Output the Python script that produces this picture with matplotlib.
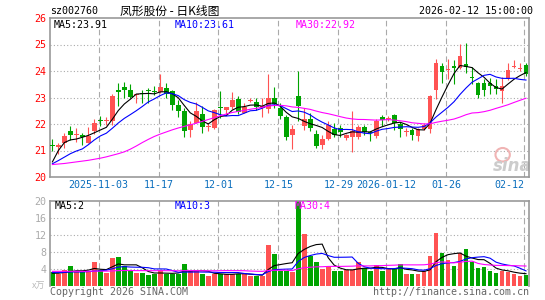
import matplotlib
matplotlib.use('Agg')
import matplotlib.pyplot as plt
from matplotlib.patches import Ellipse
import numpy as np
import pandas as pd

# daily candles, oldest first (80 sessions up to 2026-02-12)
opens = [21.22, 21.15, 21.30, 21.72, 21.60, 21.60, 21.30, 21.72, 22.15, 22.10,
         22.13, 23.30, 23.40, 23.30, 23.08, 23.14, 23.28, 23.22, 23.21, 23.34,
         23.24, 22.73, 22.48, 21.76, 22.04, 22.39, 21.88, 21.84, 22.64, 22.51,
         22.63, 22.93, 22.43, 22.87, 22.82, 22.60, 22.55, 23.00, 22.60, 22.25,
         21.60, 23.05, 21.92, 22.20, 21.62, 21.20, 21.45, 21.80, 21.85, 21.48,
         21.50, 21.52, 21.88, 21.70, 21.55, 22.27, 22.20, 22.33, 22.00, 21.68,
         21.76, 21.55, 21.83, 21.80, 23.30, 24.20, 24.03, 24.20, 24.13, 24.25,
         23.78, 23.55, 23.55, 23.53, 23.43, 23.25, 23.70, 24.14, 24.08, 24.22]
highs = [21.45, 21.30, 21.67, 21.93, 21.84, 21.65, 21.90, 22.18, 22.30, 22.25,
         23.14, 23.53, 23.60, 23.50, 23.15, 23.28, 23.36, 23.45, 23.87, 23.56,
         23.30, 22.92, 22.60, 22.10, 22.83, 22.67, 22.02, 22.56, 23.24, 22.66,
         23.21, 23.05, 22.81, 22.98, 23.00, 23.00, 23.90, 23.40, 22.80, 22.35,
         21.97, 24.00, 22.60, 22.40, 21.78, 21.58, 22.12, 22.05, 21.95, 21.62,
         22.50, 21.98, 21.98, 21.75, 22.17, 22.33, 22.32, 22.36, 22.06, 21.85,
         21.86, 21.86, 22.02, 23.08, 24.47, 24.32, 24.47, 24.42, 25.03, 25.07,
         24.15, 23.60, 23.68, 23.75, 23.70, 23.78, 24.32, 24.40, 24.32, 24.30]
lows = [20.98, 20.88, 21.10, 21.40, 21.33, 21.20, 21.28, 21.62, 21.93, 21.95,
        21.97, 22.67, 23.00, 22.98, 22.78, 22.80, 22.80, 23.10, 23.17, 22.97,
        22.54, 22.26, 21.50, 21.50, 22.04, 21.67, 21.75, 21.80, 22.22, 22.35,
        22.56, 22.36, 22.40, 22.82, 22.54, 22.25, 22.40, 22.60, 22.20, 21.40,
        21.05, 22.10, 21.78, 21.75, 21.08, 21.04, 21.38, 21.50, 21.52, 21.39,
        20.95, 21.42, 21.57, 21.35, 21.48, 21.92, 22.10, 21.77, 21.52, 21.55,
        21.40, 21.35, 21.77, 21.65, 22.93, 23.55, 23.68, 23.50, 24.08, 23.94,
        23.50, 22.99, 23.05, 23.12, 23.15, 22.80, 23.65, 24.10, 24.00, 23.81]
closes = [21.18, 21.20, 21.55, 21.60, 21.63, 21.52, 21.55, 22.05, 22.12, 22.13,
          23.05, 23.20, 23.28, 23.02, 23.10, 23.12, 23.25, 23.20, 23.39, 23.14,
          22.73, 22.48, 21.75, 22.00, 22.48, 21.88, 21.90, 22.54, 22.62, 22.63,
          22.92, 22.45, 22.66, 22.90, 22.66, 22.68, 22.98, 22.75, 22.30, 21.50,
          21.82, 22.68, 22.20, 21.85, 21.18, 21.43, 21.95, 21.60, 21.68, 21.57,
          21.72, 21.88, 21.68, 21.65, 22.12, 22.15, 22.24, 22.02, 21.80, 21.72,
          21.58, 21.80, 21.98, 23.05, 24.32, 23.97, 24.08, 24.12, 24.55, 24.14,
          23.75, 23.10, 23.28, 23.43, 23.33, 23.45, 24.05, 24.18, 24.12, 23.90]
# volume in 10k lots
volumes = [3.3, 2.75, 3.7, 4.65, 3.5, 3.3, 3.5, 5.7, 3.7, 3.1,
           6.6, 6.85, 4.65, 3.7, 3.1, 3.1, 2.5, 2.9, 3.7, 2.9,
           2.9, 2.9, 5.1, 3.5, 3.5, 2.9, 2.3, 2.75, 2.9, 2.9,
           2.9, 2.9, 2.9, 2.3, 2.3, 2.3, 9.6, 7.5, 3.5, 3.5,
           3.3, 20.5, 12.2, 7.0, 5.7, 3.9, 4.5, 3.5, 3.5, 3.7,
           3.7, 5.7, 4.3, 3.5, 4.9, 3.5, 4.25, 3.9, 5.1, 2.9,
           2.75, 2.9, 3.5, 7.0, 12.5, 7.8, 6.1, 4.65, 7.8, 8.7,
           5.7, 4.25, 4.5, 3.5, 3.1, 3.5, 3.3, 2.9, 2.3, 2.5]

ma5_head = [20.57, 21.00, 21.30, 21.40]
ma10_head = [20.50, 20.62, 20.75, 20.88, 20.98, 21.06, 21.22, 21.40, 21.55]
ma30_head = [20.47, 20.49, 20.51, 20.54, 20.57, 20.60, 20.63, 20.67, 20.71, 20.76,
             20.82, 20.88, 20.95, 21.05, 21.17, 21.30, 21.42, 21.53, 21.62, 21.70,
             21.78, 21.85, 21.91, 21.97, 22.03, 22.10, 22.17, 22.24, 22.31]
vol_ma5_head = [3.0, 3.0, 3.2, 3.4]
vol_ma10_head = [3.2, 3.2, 3.2, 3.3, 3.3, 3.3, 3.4, 3.5, 3.6]
vol_ma30_head = [3.45, 3.45, 3.44, 3.46, 3.46, 3.45, 3.46, 3.50, 3.50, 3.49,
                 3.55, 3.62, 3.64, 3.64, 3.62, 3.62, 3.60, 3.60, 3.62, 3.60,
                 3.60, 3.58, 3.62, 3.62, 3.62, 3.60, 3.58, 3.58, 3.60]

tick_idx = [8, 18, 28, 38, 48, 56, 66, 79]
tick_labels = ['2025-11-03', '11-17', '12-01', '12-15', '12-29', '2026-01-12', '01-26', '02-12']
price_ticks = [20, 21, 22, 23, 24, 25, 26]
vol_ticks = [4, 8, 12, 16, 20]


def moving(values, n, head):
    out = pd.Series(values).rolling(n).mean().to_numpy()
    out[:len(head)] = head
    return out


W, H = 545, 300
RED = '#ff5353'
GREEN = '#00a400'
GRID = '#aaaaaa'
BORDER = '#999999'
MONO = 'DejaVu Sans Mono'
FS = 7.2


def fx(x):
    return x / W


def fy(y):
    return 1 - y / H


o = np.array(opens)
c = np.array(closes)
x = np.arange(len(closes))
up = c >= o
cols = np.where(up, RED, GREEN)

fig = plt.figure(figsize=(W / 100, H / 100), dpi=100)
ax = fig.add_axes([fx(50), fy(177), fx(479), 159 / H])
axv = fig.add_axes([fx(50), fy(286), fx(479), 85 / H])

for a in (ax, axv):
    a.set_xlim(-0.4, 79.5)
    for s in a.spines.values():
        s.set_color(BORDER)
        s.set_linewidth(1.2)
    for t in tick_idx:
        a.axvline(t - 0.3, color=GRID, lw=0.8, ls=(0, (5, 3)), zorder=0)
axv.spines['bottom'].set_visible(False)

# price panel
ax.set_ylim(20, 26)
for yv in price_ticks[1:-1]:
    ax.axhline(yv, color=GRID, lw=0.8, ls=(0, (1, 2)), zorder=0)
ax.vlines(x, lows, highs, colors=cols, lw=0.8, zorder=2)
body = np.maximum(np.abs(c - o), 0.04)
ax.bar(x, body, bottom=np.minimum(o, c), width=0.8, color=cols, lw=0, zorder=3)

ax.plot(x, moving(closes, 5, ma5_head), color='black', lw=0.8, zorder=4)
ax.plot(x, moving(closes, 10, ma10_head), color='#0000ff', lw=0.8, zorder=4)
ax.plot(x, moving(closes, 30, ma30_head), color='#ff00ff', lw=0.8, zorder=4)

ax.set_yticks(price_ticks)
ax.set_yticklabels([str(v) for v in price_ticks], color='#ff0000', family=MONO, fontsize=FS)
ax.set_xticks([t - 0.3 for t in tick_idx])
ax.set_xticklabels(tick_labels, color='#0a6ebd', family=MONO, fontsize=FS)
ax.xaxis.get_ticklabels()[-1].set_ha('right')
ax.tick_params(length=0, pad=2.5)

# sina watermark (eye logo + word)
ax.add_patch(Ellipse((0.945, 0.14), 0.03, 0.085, transform=ax.transAxes,
                     fill=False, ec='#f0b4b4', lw=1.5, zorder=1))
ax.text(0.965, 0.07, 'sina', transform=ax.transAxes, fontsize=12, fontweight='bold',
        style='italic', color='#cccccc', ha='center', va='center', zorder=1)

# volume panel
axv.set_ylim(0, 20)
for yv in vol_ticks[:-1]:
    axv.axhline(yv, color=GRID, lw=0.8, ls=(0, (1, 2)), zorder=0)
axv.bar(x, volumes, width=0.8, color=cols, lw=0, zorder=2)
axv.plot(x, moving(volumes, 5, vol_ma5_head), color='black', lw=0.8, zorder=4)
axv.plot(x, moving(volumes, 10, vol_ma10_head), color='#0000ff', lw=0.8, zorder=4)
axv.plot(x, moving(volumes, 30, vol_ma30_head), color='#ff00ff', lw=0.8, zorder=4)
axv.set_yticks(vol_ticks)
axv.set_yticklabels([str(v) for v in vol_ticks], color='#aaaaaa', family=MONO, fontsize=FS)
axv.set_xticks([])
axv.tick_params(length=0, pad=2.5)

# header and labels
fig.text(fx(50), fy(11), 'sz002760', family=MONO, fontsize=FS, va='center')
fig.text(fx(120), fy(11), '凤形股份 - 日K线图', family=['Noto Sans CJK SC', 'DejaVu Sans'],
         fontsize=8.5, va='center')
fig.text(fx(533), fy(11), '2026-02-12 15:00:00', family=MONO, fontsize=FS, va='center', ha='right')

fig.text(fx(54), fy(25), 'MA5:23.91', family=MONO, fontsize=FS, va='center', color='black')
fig.text(fx(175), fy(25), 'MA10:23.61', family=MONO, fontsize=FS, va='center', color='#0000ff')
fig.text(fx(296), fy(25), 'MA30:22.92', family=MONO, fontsize=FS, va='center', color='#ff00ff')

fig.text(fx(55), fy(206), 'MA5:2', family=MONO, fontsize=FS, va='center', color='black')
fig.text(fx(175), fy(206), 'MA10:3', family=MONO, fontsize=FS, va='center', color='#0000ff')
fig.text(fx(295), fy(206), 'MA30:4', family=MONO, fontsize=FS, va='center', color='#ff00ff', zorder=10)

fig.text(fx(45), fy(286), 'x万', family=['Noto Sans CJK SC', 'DejaVu Sans'], fontsize=6.5,
         va='center', ha='right', color='#bbbbbb')
fig.text(fx(50), fy(292), 'Copyright 2026 SINA.COM', family=MONO, fontsize=FS, va='center', color='#666666')
fig.text(fx(529), fy(292), 'http://finance.sina.com.cn', family=MONO, fontsize=FS, va='center',
         ha='right', color='#666666')

fig.savefig('out.png', dpi=100)
